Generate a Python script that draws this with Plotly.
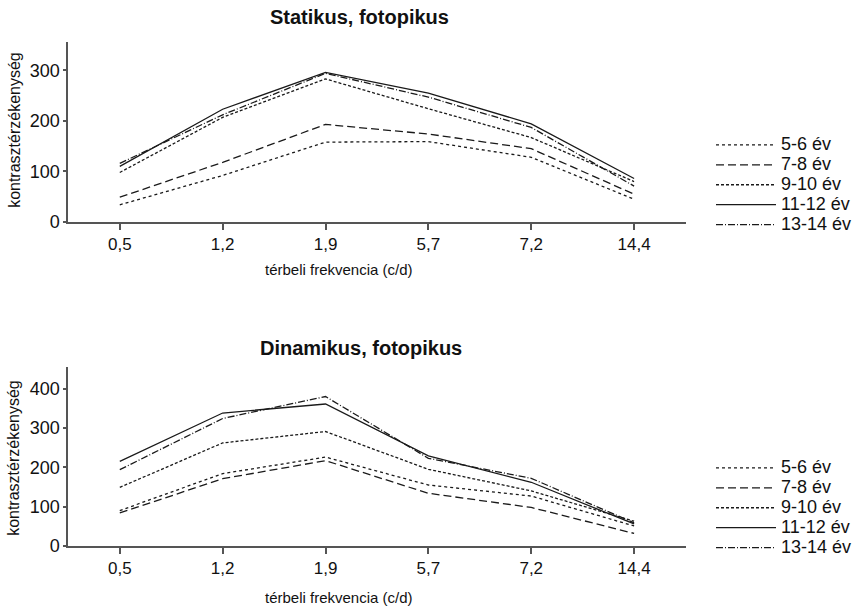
import plotly.graph_objects as go

categories = ["0,5", "1,2", "1,9", "5,7", "7,2", "14,4"]
series_names = ["5-6 év", "7-8 év", "9-10 év", "11-12 év", "13-14 év"]

static_5_6 = [34, 92, 158, 159, 128, 45]
static_7_8 = [49, 118, 193, 174, 145, 55]
static_9_10 = [98, 207, 283, 224, 167, 80]
static_11_12 = [110, 223, 296, 255, 194, 86]
static_13_14 = [116, 212, 294, 247, 187, 71]

dyn_5_6 = [90, 184, 226, 155, 127, 51]
dyn_7_8 = [84, 171, 217, 134, 98, 32]
dyn_9_10 = [149, 262, 291, 195, 140, 63]
dyn_11_12 = [215, 338, 361, 229, 162, 56]
dyn_13_14 = [194, 324, 380, 223, 172, 59]

dashes = ["dot", "8px,4px", "3px,2px", "solid", "7px,2px,1px,2px"]

static_series = [static_5_6, static_7_8, static_9_10, static_11_12, static_13_14]
dyn_series = [dyn_5_6, dyn_7_8, dyn_9_10, dyn_11_12, dyn_13_14]

W, H = 857, 606
FONT = "Liberation Sans, Arial, sans-serif"


def px(x):
    return x / W


def py(y):
    return (H - y) / H


def legend_label(s):
    return "<span style='font-size:18px'>" + s + "</span>"


fig = go.Figure()
for name, vals, d in zip(series_names, static_series, dashes):
    fig.add_trace(go.Scatter(x=categories, y=vals, mode="lines", name=legend_label(name),
                             line=dict(color="#1a1a1a", width=1.3, dash=d),
                             xaxis="x", yaxis="y", legend="legend"))
for name, vals, d in zip(series_names, dyn_series, dashes):
    fig.add_trace(go.Scatter(x=categories, y=vals, mode="lines", name=legend_label(name),
                             line=dict(color="#1a1a1a", width=1.3, dash=d),
                             xaxis="x2", yaxis="y2", legend="legend2"))

xd = [px(69), px(692)]

axis_common = dict(showline=True, linecolor="#555555", linewidth=2, showgrid=False,
                   zeroline=False, automargin=False)
x_common = dict(type="category", range=[-0.5, 5.5], ticks="outside", ticklen=6,
                tickcolor="#555555", tickwidth=1.5,
                tickfont=dict(size=17, color="#111111", family=FONT), **axis_common)
y_common = dict(ticks="outside", ticklen=3, tickcolor="#555555", tickwidth=1.5,
                tickfont=dict(size=18, color="#111111", family=FONT), **axis_common)

legend_common = dict(xanchor="left", yanchor="top", font=dict(size=13, family=FONT, color="#111111"),
                     tracegroupgap=0, itemwidth=60, bgcolor="rgba(0,0,0,0)")

fig.update_layout(
    width=W, height=H, margin=dict(l=0, r=0, t=0, b=0),
    paper_bgcolor="white", plot_bgcolor="white",
    font=dict(family=FONT, color="#111111"),
    xaxis=dict(domain=xd, anchor="y", **x_common),
    yaxis=dict(domain=[py(222), py(42)], anchor="x", range=[0, 356],
               tickvals=[0, 100, 200, 300], **y_common),
    xaxis2=dict(domain=xd, anchor="y2", **x_common),
    yaxis2=dict(domain=[py(546), py(367)], anchor="x2", range=[0, 455],
                tickvals=[0, 100, 200, 300, 400], **y_common),
    legend=dict(x=px(718), y=py(130), **legend_common),
    legend2=dict(x=px(718), y=py(453), **legend_common),
    annotations=[
        dict(text="<b>Statikus, fotopikus</b>", x=px(363), y=py(17), xref="paper", yref="paper",
             xanchor="center", yanchor="middle", showarrow=False, font=dict(size=20, family=FONT)),
        dict(text="<b>Dinamikus, fotopikus</b>", x=px(364), y=py(348), xref="paper", yref="paper",
             xanchor="center", yanchor="middle", showarrow=False, font=dict(size=20, family=FONT)),
        dict(text="térbeli frekvencia (c/d)", x=px(342), y=py(270), xref="paper", yref="paper",
             xanchor="center", yanchor="middle", showarrow=False, font=dict(size=15, family=FONT)),
        dict(text="térbeli frekvencia (c/d)", x=px(342), y=py(597), xref="paper", yref="paper",
             xanchor="center", yanchor="middle", showarrow=False, font=dict(size=15, family=FONT)),
        dict(text="kontrasztérzékenység", x=px(14), y=py(130), xref="paper", yref="paper",
             xanchor="center", yanchor="middle", showarrow=False, textangle=-90,
             font=dict(size=16, family=FONT)),
        dict(text="kontrasztérzékenység", x=px(14), y=py(458), xref="paper", yref="paper",
             xanchor="center", yanchor="middle", showarrow=False, textangle=-90,
             font=dict(size=16, family=FONT)),
    ],
)

fig.write_html("out.html", config={"displayModeBar": False},
               post_script="document.body.style.margin='0px';")
